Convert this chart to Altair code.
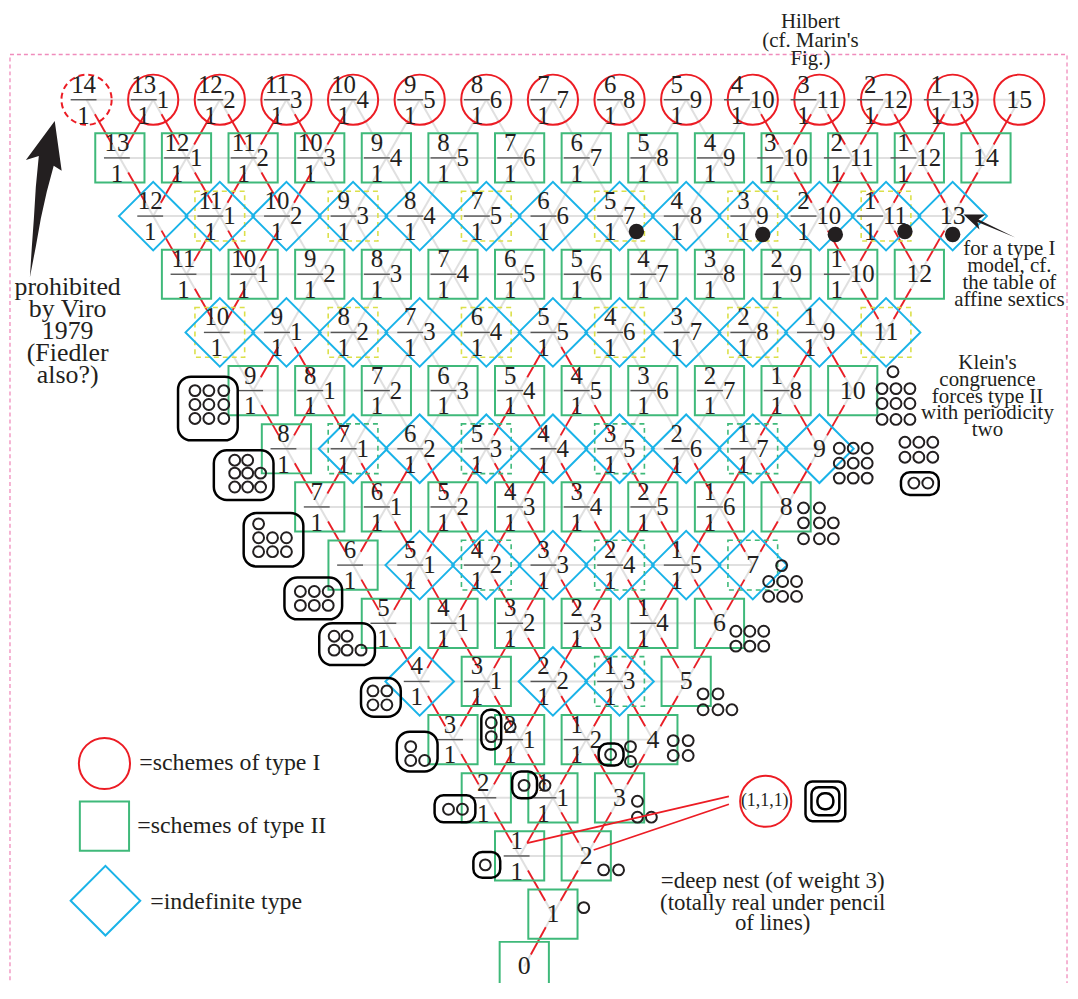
import altair as alt
import pandas as pd

# ---------------- colours / fonts ----------------
RED, GREEN, BLUE, YEL = "#ec1c24", "#3fb97a", "#1ab3e8", "#dbe04a"
GRAY, INK, PINK = "#e0e0e0", "#231f20", "#f08cbc"
FONT = "Liberation Serif"

# ---------------- data ----------------
LEVELS = list(range(16))
# kind of every scheme, level by level, left to right
# C = schemes of type I, S = schemes of type II, D = indefinite type
KINDS = {
    15: "CCCCCCCCCCCCCCC", 14: "SSSSSSSSSSSSSS", 13: "DDDDDDDDDDDDD",
    12: "SSSSSSSSSSSS", 11: "DDDDDDDDDDD", 10: "SSSSSSSSSS",
    9: "SDDDDDDDD", 8: "SSSSSSSS", 7: "SDDDDDD", 6: "SSSSSS",
    5: "DSDDS", 4: "SSSS", 3: "SSS", 2: "SS", 1: "S", 0: "S",
}
# dashed square drawn behind a scheme: y = yellow, g = green
HALOS = {13: ".y.y.y.y.y.y.", 11: "y.y.y.y.y.y", 9: ".g.g.g.g.",
         7: "..g.g.g", 5: "...g."}
# red links going down from each scheme: L lower-left, R lower-right, B both
RED_LINKS = {
    15: "RBBBL.....RBBBL", 14: "RBBL......RBBL", 13: "RBL.......RBL",
    12: "RL........RL", 11: ".B...B...B.", 10: "RB..BB..BL",
    9: "RBBBBBBBL", 8: "RBBBBBBL", 7: "RBBBBBL", 6: "RBBBBL",
    5: "RBBBL", 4: "RBBL", 3: "RBL", 2: "RL", 1: "L",
}
DASHED_CIRCLE = [(15, 0)]             # 14/1 prohibited

HILBERT = ["Hilbert", "(cf. Marin's", "Fig.)"]
PROHIB = ["prohibited", "by Viro", "1979", "(Fiedler", "also?)"]
TYPE1 = ["for a type I", "model, cf.", "the table of", "affine sextics"]
KLEIN = ["Klein's", "congruence", "forces type II", "with periodicity", "two"]
DEEP = ["=deep nest (of weight 3)", "(totally real under pencil", "of lines)"]
LEGEND = ["=schemes of type I", "=schemes of type II", "=indefinite type"]

# ---------------- geometry helpers ----------------
W, H = 1068, 975
PX0, SX = 556.0, 67.0
PY0, SY = 975.0, 58.5
def X(px): return (px - PX0) / SX
def Y(py): return (PY0 - py) / SY

xs = alt.Scale(domain=[X(8), X(8 + W)], nice=False, zero=False)
ys = alt.Scale(domain=[Y(8 + H), Y(8)], nice=False, zero=False)
EX = alt.X("x:Q", scale=xs, axis=None)
EY = alt.Y("y:Q", scale=ys, axis=None)

# ---------------- nodes ----------------
pos = {}
nodes = []
for L in LEVELS:
    n = max(L, 1)
    for i in range(n):
        if L > 0:
            x, y = i - (L - 1) / 2, float(L)
        else:
            x, y = -0.43, 0.1
        pos[(L, i)] = (x, y)
        if L == 0:
            num, b, plain = "", "", "0"
        elif i == L - 1:
            num, b, plain = "", "", str(L)
        else:
            num, b, plain = str(L - 1 - i), (str(i) if i > 0 else ""), ""
        halo = HALOS.get(L, "." * n)[i]
        nodes.append(dict(L=L, i=i, x=x, y=y, kind=KINDS[L][i], halo=halo,
                          num=num, b=b, plain=plain,
                          dashed=(L, i) in DASHED_CIRCLE))
nd = pd.DataFrame(nodes)

def seg(a, c, t0=0.0, t1=1.0):
    (x1, y1), (x2, y2) = pos[a], pos[c]
    return dict(x=x1 + t0 * (x2 - x1), y=y1 + t0 * (y2 - y1),
                x2=x1 + t1 * (x2 - x1), y2=y1 + t1 * (y2 - y1))

# lattice (grey)
gray = []
for L in range(2, 16):
    for i in range(L):
        if i >= 1:
            gray.append(seg((L, i), (L - 1, i - 1)))
        if i <= L - 2:
            gray.append(seg((L, i), (L - 1, i)))
    for i in range(L - 1):
        gray.append(seg((L, i), (L, i + 1)))
gray.append(seg((1, 0), (0, 0)))
gray = pd.DataFrame(gray)

reds = []
for L, s in RED_LINKS.items():
    for i, ch in enumerate(s):
        tg = []
        if L == 1:
            tg = [(0, 0)] if ch != "." else []
        else:
            if ch in "LB":
                tg.append((L - 1, i - 1))
            if ch in "RB":
                tg.append((L - 1, i))
        for t in tg:
            reds.append(seg((L, i), t, 0.25, 0.77))
reds = pd.DataFrame(reds)

# labels
frac_rows, bar_rows, b_rows, plain_rows = [], [], [], []
for r in nodes:
    if r["plain"]:
        plain_rows.append(dict(x=r["x"], y=r["y"], t=r["plain"]))
    else:
        fc = r["x"] + (-3 - 6.5 * len(r["b"])) / SX
        frac_rows.append(dict(x=fc, y=r["y"] + 15 / SY, t=r["num"]))
        frac_rows.append(dict(x=fc, y=r["y"] - 16 / SY, t="1"))
        bar_rows.append(dict(x=fc - 13 / SX, x2=fc + 13 / SX, y=r["y"], y2=r["y"]))
        if r["b"]:
            b_rows.append(dict(x=fc + 13 / SX, y=r["y"], t=r["b"]))

dots = pd.DataFrame([dict(x=X(px), y=Y(py)) for px, py in
                     [(640, 230), (767, 233), (840, 233), (910, 230), (958, 233)]])

# oval pictures (small circles) in page pixels
small_px = []
def grid(xl, yl):
    for yy, xx in zip(yl, xl):
        for x_ in xx:
            small_px.append((x_, yy))
grid([[196, 210, 225]] * 3, [390, 404, 418])
grid([[236, 249], [236, 249, 262], [236, 249, 262]], [460, 473, 487])
grid([[260], [260, 274, 288], [260, 274, 288]], [524, 538, 552])
grid([[302, 316, 330]] * 2, [592, 606])
grid([[336, 349], [336, 349, 363]], [637, 651])
grid([[375, 389]] * 2, [692, 706])
grid([[413], [413, 427]], [748, 762])
grid([[451, 465]], [811])
grid([[488]], [867])
grid([[494], [494], [513]], [724, 738, 728])
grid([[527], [548]], [787, 787])
grid([[614], [634], [634]], [756, 748, 763])
grid([[587]], [910])
grid([[607, 622]], [872])
grid([[641], [641, 655]], [803, 819])
grid([[677, 692]] * 2, [742, 757])
grid([[707, 722], [707, 722, 736]], [695, 711])
grid([[740, 754, 768]] * 2, [632, 647])
grid([[786], [773, 787, 801], [773, 787, 801]], [566, 582, 597])
grid([[808, 824], [808, 824, 838], [808, 824, 838]], [508, 523, 539])
grid([[844, 858, 872]] * 3, [448, 463, 478])
grid([[898], [887, 901, 915], [887, 901, 915], [887, 901, 915]], [371, 388, 403, 419])
grid([[910, 924, 938]] * 2, [442, 457])
grid([[919, 933]], [483])
small = pd.DataFrame([dict(x=X(a), y=Y(b)) for a, b in small_px])

big_boxes = [(179, 376, 239, 440), (215, 450, 275, 500), (245, 513, 305, 567),
             (286, 578, 344, 620), (321, 624, 377, 666), (363, 679, 403, 718),
             (399, 733, 440, 773)]
small_boxes = [(437, 797, 478, 824), (476, 854, 503, 880), (484, 711, 504, 751),
               (515, 773, 540, 800), (602, 745, 627, 767), (906, 472, 944, 495)]
nest_boxes = [(810, 783, 850, 823), (816, 789, 844, 817), (822, 795, 838, 811)]
def boxes(lst):
    return pd.DataFrame([dict(x=X(a), x2=X(c), y=Y(b), y2=Y(d)) for a, b, c, d in lst])

# arrows as custom symbols
def arrow(pts):
    xs_ = [p[0] for p in pts]; ys_ = [p[1] for p in pts]
    cx, cy = (min(xs_) + max(xs_)) / 2, (min(ys_) + max(ys_)) / 2
    s = max(max(xs_) - min(xs_), max(ys_) - min(ys_)) / 2
    path = "M" + " L".join(f"{(a - cx) / s:.3f},{(b - cy) / s:.3f}" for a, b in pts) + " Z"
    return path, cx, cy, (2 * s) ** 2
left_arrow = arrow([(55, 119), (26, 158), (39, 154), (36, 185), (34, 217), (32, 245),
                    (30, 276), (36, 245), (41, 217), (47, 190), (54, 164), (62, 169)])
right_arrow = arrow([(969, 213), (991, 213), (984, 218), (1021, 236), (983, 220.5), (985, 228)])

# ---------------- layers ----------------
def pt(df, **kw):
    return alt.Chart(df).mark_point(opacity=1, **kw).encode(x=EX, y=EY)

def txt(df, size, align="center", color=INK):
    return alt.Chart(df).mark_text(font=FONT, fontSize=size, align=align,
                                   baseline="middle", color=color).encode(x=EX, y=EY, text="t:N")

def rules(df, **kw):
    return alt.Chart(df).mark_rule(**kw).encode(x=EX, y=EY, x2="x2:Q", y2="y2:Q")

def rects(df, r, sw=2.5):
    return alt.Chart(df).mark_rect(fillOpacity=0, stroke="black", strokeWidth=sw,
                                   cornerRadius=r).encode(x=EX, y=EY, x2="x2:Q", y2="y2:Q")

border = pd.DataFrame([dict(x=X(10), x2=X(1073), y=Y(52), y2=Y(1040))])
layers = [
    alt.Chart(border).mark_rect(fillOpacity=0, stroke=PINK, strokeWidth=1.3,
                                strokeDash=[4, 3]).encode(x=EX, y=EY, x2="x2:Q", y2="y2:Q"),
    rules(gray, color=GRAY, strokeWidth=2),
    rules(reds, color=RED, strokeWidth=1.8),
    pt(nd[nd.halo == "y"], shape="square", size=2500, filled=False, color=YEL,
       strokeWidth=1.6, strokeDash=[5, 4]),
    pt(nd[nd.halo == "g"], shape="square", size=2500, filled=False, color=GREEN,
       strokeWidth=1.6, strokeDash=[5, 4]),
    pt(nd[(nd.kind == "C") & (~nd.dashed)], shape="circle", size=2550, filled=False,
       color=RED, strokeWidth=2),
    pt(nd[(nd.kind == "C") & (nd.dashed)], shape="circle", size=2550, filled=False,
       color=RED, strokeWidth=2, strokeDash=[6, 4]),
    pt(nd[nd.kind == "S"], shape="square", size=2450, filled=False, color=GREEN, strokeWidth=2),
    pt(nd[nd.kind == "D"], shape="diamond", size=4750, filled=False, color=BLUE, strokeWidth=2),
    rules(pd.DataFrame(bar_rows), color="#555555", strokeWidth=1.4),
    txt(pd.DataFrame(frac_rows), 25),
    txt(pd.DataFrame(b_rows), 25, align="left"),
    txt(pd.DataFrame(plain_rows), 26),
    pt(dots, shape="circle", size=240, filled=True, color=INK),
    pt(small, shape="circle", size=120, filled=False, color=INK, strokeWidth=2),
    rects(boxes(big_boxes), 13),
    rects(boxes(small_boxes), 9),
    rects(boxes(nest_boxes), 7, 2.5),
]
for path, cx, cy, size in (left_arrow, right_arrow):
    layers.append(pt(pd.DataFrame([dict(x=X(cx), y=Y(cy))]), shape=path, size=size,
                     filled=True, color=INK, strokeWidth=0))

def block(lines, px, ys_px):
    return pd.DataFrame([dict(x=X(px), y=Y(yy), t=t) for t, yy in zip(lines, ys_px)])
layers += [
    txt(block(HILBERT, 815, [19, 38, 57]), 21),
    txt(block(PROHIB, 68, [286, 308, 330, 352, 374]), 26),
    txt(block(TYPE1, 1015, [248, 265, 282, 299]), 21),
    txt(block(KLEIN, 993, [362, 379, 396, 413, 430]), 21),
    txt(block(DEEP, 777, [883, 905, 925]), 23),
    txt(pd.DataFrame([dict(x=X(140), y=Y(765), t=LEGEND[0]),
                      dict(x=X(138), y=Y(828), t=LEGEND[1]),
                      dict(x=X(151), y=Y(904), t=LEGEND[2])]), 24, align="left"),
    pt(pd.DataFrame([dict(x=X(105), y=Y(765)), dict(x=X(770), y=Y(803))]),
       shape="circle", size=2650, filled=False, color=RED, strokeWidth=2),
    pt(pd.DataFrame([dict(x=X(105), y=Y(828))]), shape="square", size=2450,
       filled=False, color=GREEN, strokeWidth=2),
    pt(pd.DataFrame([dict(x=X(106), y=Y(903))]), shape="diamond", size=4900,
       filled=False, color=BLUE, strokeWidth=2),
    txt(pd.DataFrame([dict(x=X(769), y=Y(803), t="(1,1,1)")]), 18),
    rules(pd.DataFrame([dict(x=X(733), y=Y(798), x2=X(530), y2=Y(845)),
                        dict(x=X(733), y=Y(806), x2=X(597), y2=Y(852))]),
          color=RED, strokeWidth=1.8),
]

chart = alt.layer(*layers).properties(
    width=W, height=H, padding=0, autosize=alt.AutoSizeParams(type="none")
).configure_view(stroke=None)

chart.save("out.html", embed_options={"renderer": "svg", "actions": False})
